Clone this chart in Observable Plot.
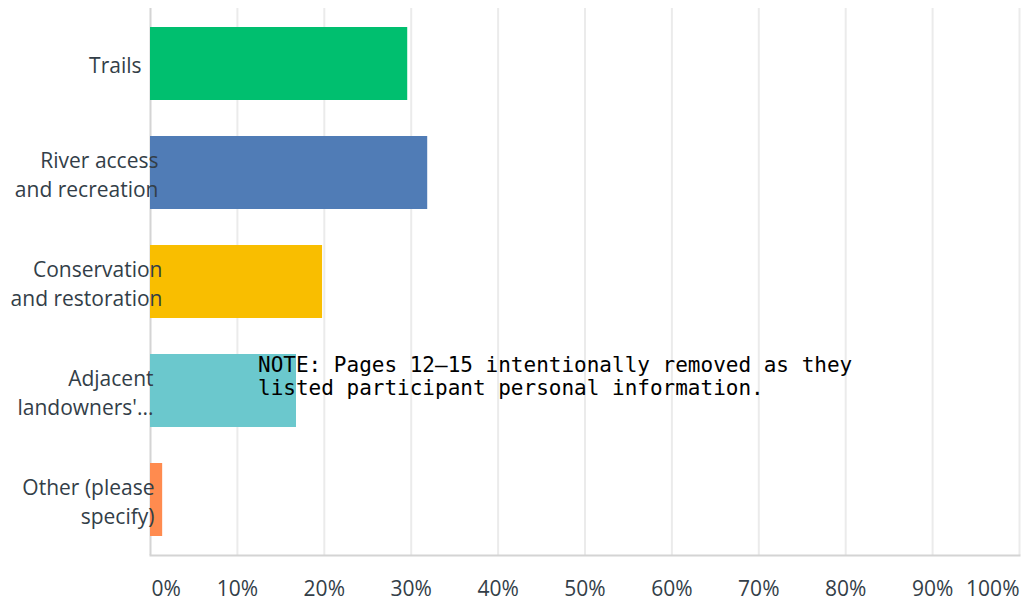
<!DOCTYPE html>
<html>
<head>
<meta charset="utf-8">
<script src="https://cdn.jsdelivr.net/npm/d3@7"></script>
<script src="https://cdn.jsdelivr.net/npm/@observablehq/plot@0.6"></script>
<style>
  html, body { margin: 0; padding: 0; background: #fff; }
  #wrap { position: relative; width: 1024px; height: 602px; overflow: hidden; }
  #note {
    position: absolute; left: 258px; top: 354px;
    font-family: "DejaVu Sans Mono", monospace; font-size: 21px; line-height: 23px;
    color: #000; white-space: pre; margin: 0;
  }
</style>
</head>
<body>
<div id="wrap"></div>
<script>
// ---- data ----
const categories = ["Trails", "River access and recreation", "Conservation and restoration", "Adjacent landowners'...", "Other (please specify)"];
const categoryLines = ["Trails", "River access\nand recreation", "Conservation\nand restoration", "Adjacent\nlandowners'...", "Other (please\nspecify)"];
const shares = [0.296, 0.319, 0.198, 0.168, 0.014];
const barColors = ["#00BF6F", "#507CB6", "#F9BE00", "#6BC8CD", "#FF8B4F"];
const xTicks = [0, 0.1, 0.2, 0.3, 0.4, 0.5, 0.6, 0.7, 0.8, 0.9, 1.0];
const xTickLabels = ["0%", "10%", "20%", "30%", "40%", "50%", "60%", "70%", "80%", "90%", "100%"];
const noteText = "NOTE: Pages 12–15 intentionally removed as they\nlisted participant personal information.";

// ---- layout (not data) ----
const labelDx = [-9, 8, 12, 3, 4];
const textColor = "#333e48";
const font = "'Open Sans', sans-serif";

const rows = categories.map((c, i) => ({ category: c, lines: categoryLines[i], value: shares[i], color: barColors[i], dx: labelDx[i] }));
const ticks = xTicks.map((t, i) => ({ t, label: xTickLabels[i], i }));
const last = ticks.length - 1;

const labelMarks = rows.map(r => Plot.text([r], {
  y: "category", text: "lines", frameAnchor: "left", textAnchor: "end",
  dx: r.dx, lineHeight: 1.38, fontSize: 21, fill: textColor
}));

const tickDy = 40;

const chart = Plot.plot({
  width: 1024,
  height: 602,
  marginLeft: 150,
  marginRight: 5,
  marginTop: 8,
  marginBottom: 47,
  style: { fontFamily: font, background: "white", overflow: "visible" },
  x: { domain: [0, 1], axis: null },
  y: { domain: categories, axis: null, paddingInner: 0.33, paddingOuter: 0.17 },
  marks: [
    Plot.ruleX(xTicks.filter(t => t > 0), { stroke: "#ebebeb", strokeWidth: 2 }),
    Plot.ruleX([0], { stroke: "#d4d4d4", strokeWidth: 2 }),
    Plot.frame({ anchor: "bottom", stroke: "#d4d4d4", strokeWidth: 2 }),
    Plot.barX(rows, { y: "category", x: "value", fill: "color" }),
    ...labelMarks,
    Plot.text(ticks.filter(d => d.i > 0 && d.i < last), { x: "t", text: "label", frameAnchor: "bottom", dy: tickDy, fontSize: 21, fill: textColor, textAnchor: "middle" }),
    Plot.text(ticks.filter(d => d.i === 0), { x: "t", text: "label", frameAnchor: "bottom", dy: tickDy, dx: 1, fontSize: 21, fill: textColor, textAnchor: "start" }),
    Plot.text(ticks.filter(d => d.i === last), { x: "t", text: "label", frameAnchor: "bottom", dy: tickDy, fontSize: 21, fill: textColor, textAnchor: "end" })
  ]
});

const wrap = document.getElementById("wrap");
wrap.appendChild(chart);
const note = document.createElement("div");
note.id = "note";
note.textContent = noteText;
wrap.appendChild(note);
</script>
</body>
</html>
